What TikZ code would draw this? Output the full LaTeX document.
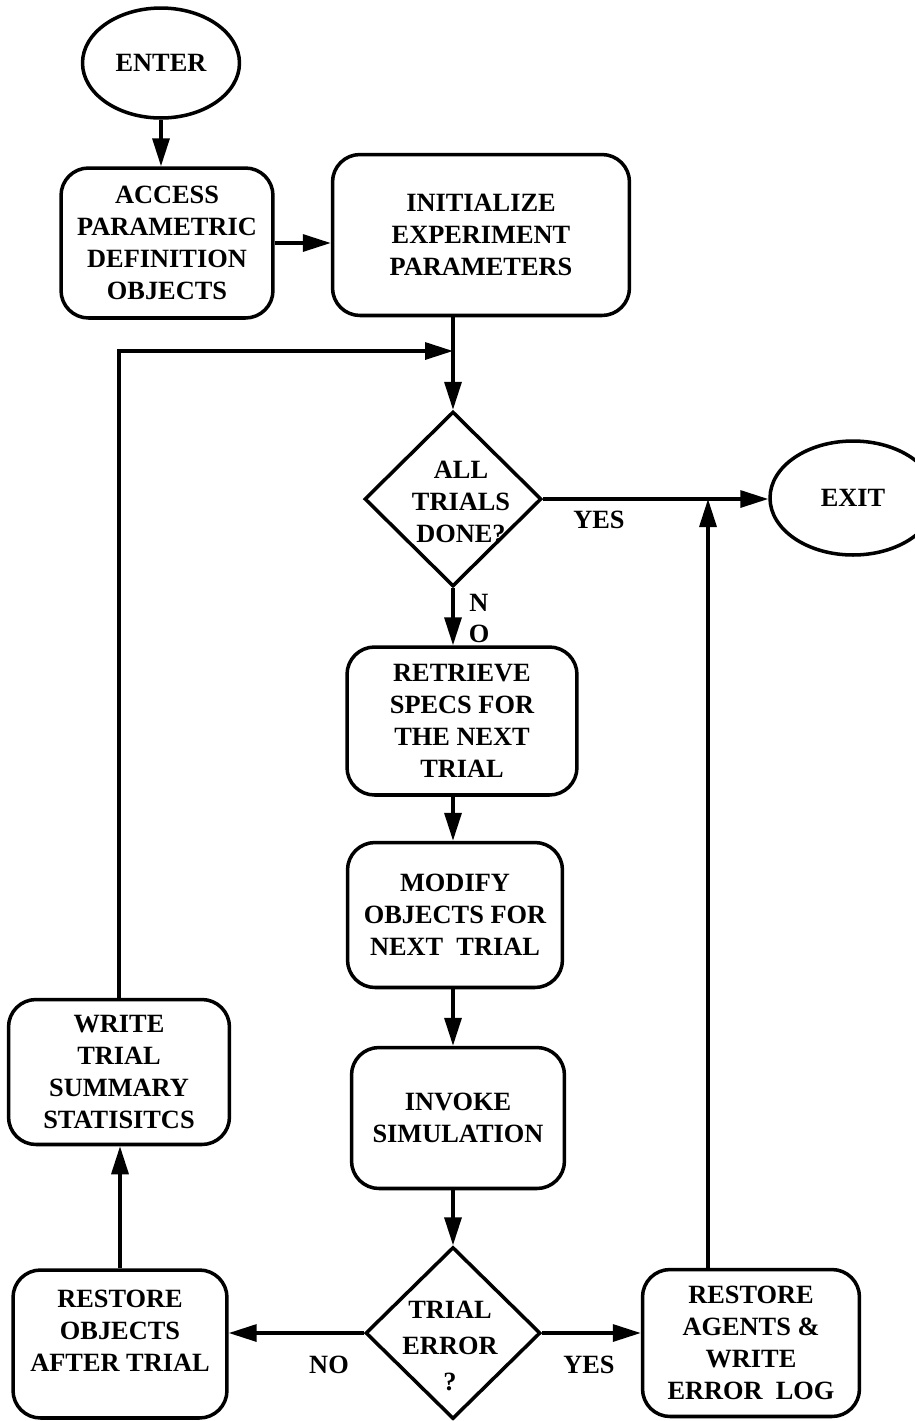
\documentclass[tikz,border=0pt]{standalone}
\usepackage{fontspec}
\setmainfont{Liberation Serif}
\usetikzlibrary{arrows.meta,shapes.geometric,positioning}

\begin{document}
\begin{tikzpicture}[x=0.02cm,y=-0.02cm]
\tikzset{
  flowtext/.style={font=\bfseries\fontsize{15}{18.2}\selectfont,align=center,inner sep=0pt},
  procbox/.style={flowtext,rectangle,draw=black,line width=2pt,rounded corners=0.55cm},
  terminal/.style={flowtext,ellipse,draw=black,line width=2pt},
  decision/.style={diamond,draw=black,line width=2pt,inner sep=0pt},
  flowline/.style={draw=black,line width=1.9pt},
  flowarrow/.style={flowline,-{Triangle[length=5.6mm,width=3.4mm]}},
  flowlabel/.style={flowtext}
}
\useasboundingbox (0,0) rectangle (914,1421);
\node[terminal,minimum width=3.14cm,minimum height=2.2cm] (n_enter) at (161,63) {ENTER};
\node[procbox,minimum width=4.24cm,minimum height=3.0cm] (n_access) at (167,243) {ACCESS\\PARAMETRIC\\DEFINITION\\OBJECTS};
\node[procbox,minimum width=5.94cm,minimum height=3.22cm] (n_init) at (481,235) {INITIALIZE\\EXPERIMENT\\PARAMETERS};
\node[decision,minimum width=3.54cm,minimum height=3.5cm] (n_done) at (453,499) {};
\node[flowtext] (t_done) at (461,502) {ALL\\TRIALS\\DONE?};
\node[terminal,minimum width=3.32cm,minimum height=2.28cm] (n_exit) at (853,498) {EXIT};
\node[procbox,minimum width=4.6cm,minimum height=2.96cm] (n_retrieve) at (462,721) {RETRIEVE\\SPECS FOR\\THE NEXT\\TRIAL};
\node[procbox,minimum width=4.3cm,minimum height=2.9cm] (n_modify) at (455,915) {MODIFY\\OBJECTS FOR\\NEXT\enspace TRIAL};
\node[procbox,minimum width=4.26cm,minimum height=2.82cm] (n_invoke) at (458,1118) {INVOKE\\SIMULATION};
\node[decision,minimum width=3.5cm,minimum height=3.44cm] (n_error) at (453,1333) {};
\node[flowtext,font=\bfseries\fontsize{15}{20.4}\selectfont] (t_error) at (450,1346) {TRIAL\\ERROR\\?};
\node[procbox,minimum width=4.28cm,minimum height=2.96cm] (n_restobj) at (120,1344) {};
\node[flowtext] (t_restobj) at (120,1331) {RESTORE\\OBJECTS\\AFTER TRIAL};
\node[procbox,minimum width=4.34cm,minimum height=2.94cm] (n_agents) at (751,1343) {RESTORE\\AGENTS \&\\WRITE\\ERROR\enspace LOG};
\node[procbox,minimum width=4.42cm,minimum height=2.9cm] (n_write) at (119,1072) {WRITE\\TRIAL\\SUMMARY\\STATISITCS};
% branch labels
\node[flowlabel] (l_yes1) at (599,520) {YES};
\node[flowlabel] (l_no1n) at (479,603) {N};
\node[flowlabel] (l_no1o) at (479,634) {O};
\node[flowlabel] (l_no2) at (329,1365) {NO};
\node[flowlabel] (l_yes2) at (589,1365) {YES};
% helper points
\coordinate (spine) at (453,0);
\coordinate (loop) at (453,351);
\coordinate (upx) at (708,0);
% connectors
\draw[flowarrow] (n_enter.south) -- (n_enter.south |- n_access.north);
\draw[flowarrow] (n_access.east) -- (n_access.east -| n_init.west);
\draw[flowline] (n_init.south -| spine) -- (loop);
\draw[flowarrow] (loop) -- (n_done.north);
\draw[flowarrow] (n_write.north) |- (loop);
\draw[flowarrow] (n_done.east) -- (n_done.east -| n_exit.west);
\draw[flowarrow] (n_agents.north -| upx) -- (upx |- n_done.east);
\draw[flowarrow] (n_done.south) -- (n_done.south |- n_retrieve.north);
\draw[flowarrow] (n_retrieve.south -| spine) -- (n_modify.north -| spine);
\draw[flowarrow] (n_modify.south -| spine) -- (n_invoke.north -| spine);
\draw[flowarrow] (n_invoke.south -| spine) -- (n_error.north);
\draw[flowarrow] (n_error.west) -- (n_error.west -| n_restobj.east);
\draw[flowarrow] (n_error.east) -- (n_error.east -| n_agents.west);
\draw[flowarrow] (n_restobj.north) -- (n_restobj.north |- n_write.south);
\end{tikzpicture}
\end{document}
